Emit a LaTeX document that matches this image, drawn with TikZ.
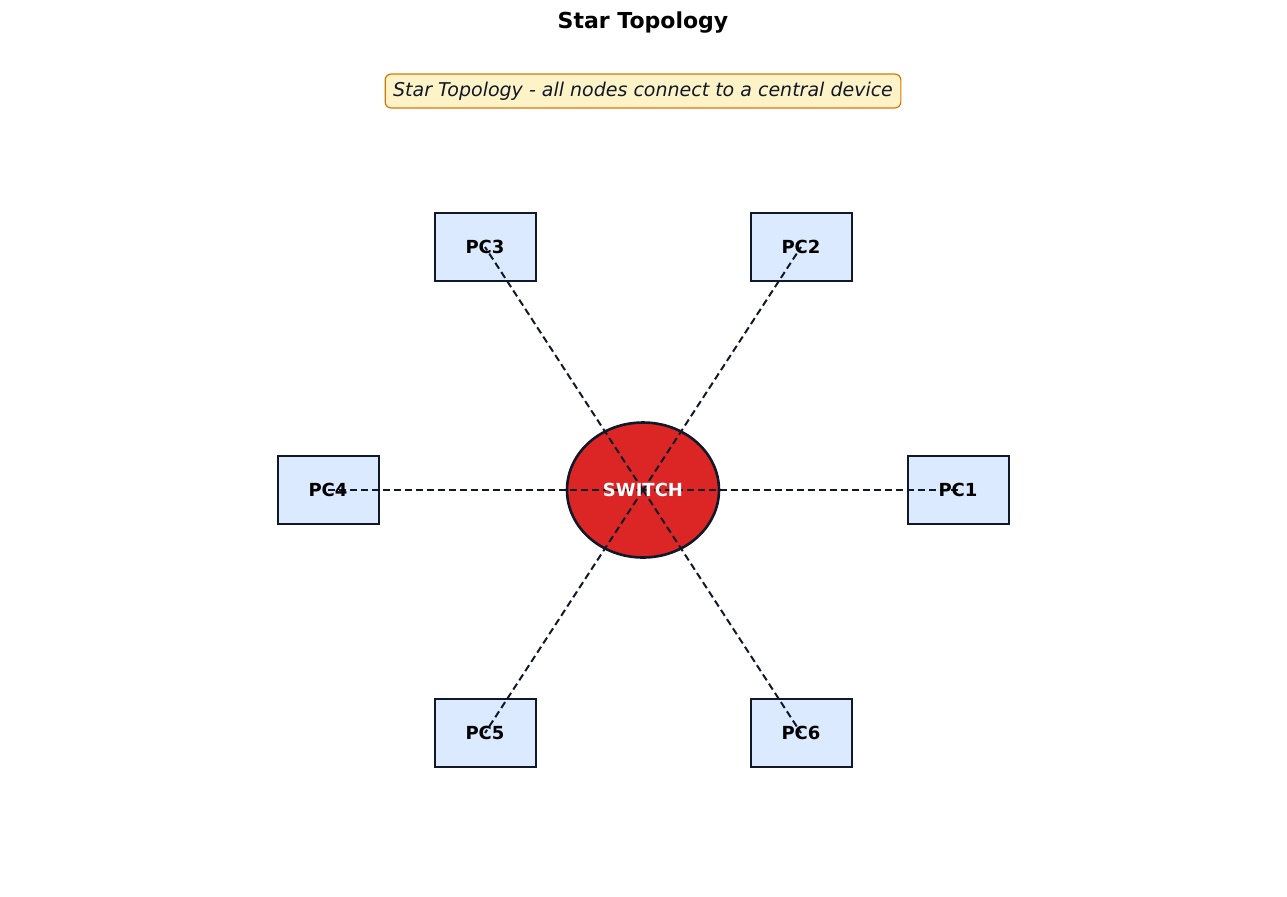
\documentclass[tikz,border=0pt]{standalone}
\usepackage{fontspec}
\setmainfont{DejaVu Sans}
\usetikzlibrary{shapes.geometric}
\definecolor{pcfill}{HTML}{DBEAFE}
\definecolor{edge}{HTML}{111827}
\definecolor{swfill}{HTML}{DC2626}
\definecolor{notefill}{HTML}{FEF3C7}
\definecolor{noteedge}{HTML}{D97706}
\begin{document}
\begin{tikzpicture}[x=0.5pt,y=-0.5pt,
  pc/.style={draw=edge,fill=pcfill,line width=1pt,minimum width=50.5pt,minimum height=34pt,inner sep=0pt},
  sw/.style={ellipse,draw=edge,fill=swfill,line width=1.3pt,minimum width=76pt,minimum height=67.5pt,inner sep=0pt},
  lbl/.style={font=\fontsize{9}{10}\selectfont\bfseries},
  link/.style={draw=edge,line width=1pt,dash pattern=on 3.5pt off 2pt}]
\useasboundingbox (0,0) rectangle (1287,896);
\node[font=\fontsize{11}{13}\selectfont\bfseries] (title) at (643,23) {Star Topology};
\node[draw=noteedge,fill=notefill,rounded corners=3pt,line width=0.6pt,inner xsep=4pt,minimum height=17pt,font=\fontsize{9.5}{11}\selectfont\itshape,text=edge] (note) at (643,91) {Star Topology - all nodes connect to a central device};
\node[sw] (sw) at (643,490) {};
\node[pc] (pc1) at (958,490) {};
\node[pc] (pc2) at (801,247) {};
\node[pc] (pc3) at (485,247) {};
\node[pc] (pc4) at (328,490) {};
\node[pc] (pc5) at (485,733) {};
\node[pc] (pc6) at (801,733) {};
\foreach \p in {pc1,pc2,pc3,pc4,pc5,pc6}{\draw[link] (sw.center) -- (\p.center);}
\node[lbl,text=white] at (sw.center) {SWITCH};
\foreach \p/\t in {pc1/PC1,pc2/PC2,pc3/PC3,pc4/PC4,pc5/PC5,pc6/PC6}{\node[lbl] at (\p.center) {\t};}
\end{tikzpicture}
\end{document}
